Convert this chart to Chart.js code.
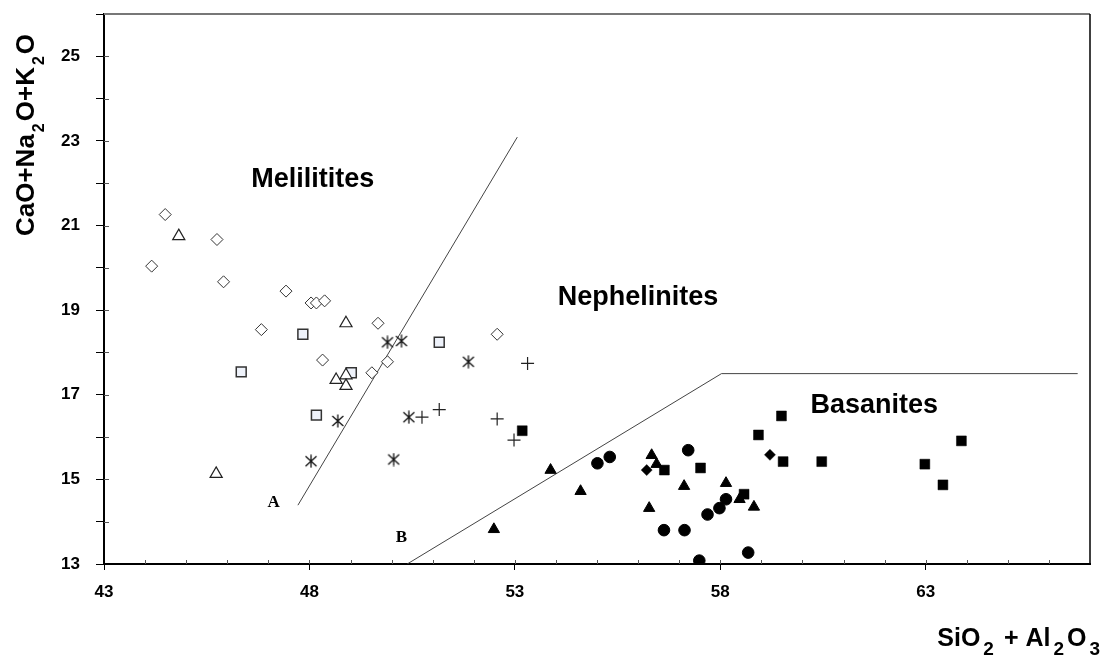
<!DOCTYPE html>
<html lang="en">
<head>
<meta charset="UTF-8">
<title>CaO+Na2O+K2O vs SiO2+Al2O3</title>
<script src="https://cdn.jsdelivr.net/npm/chart.js"></script>
<style>
  html, body { margin: 0; padding: 0; background: #fff; }
  #wrap { width: 1107px; height: 657px; }
</style>
</head>
<body>
<div id="wrap"><canvas id="chart" width="1107" height="657"></canvas></div>
<script>
// --- data (x = SiO2+Al2O3, y = CaO+Na2O+K2O) ---
const openDiamondX = [44.49, 44.16, 45.75, 45.91, 47.43, 46.83, 48.04, 48.17, 48.37, 49.67, 48.32, 49.52, 49.90, 52.57];
const openDiamondY = [21.26, 20.04, 20.67, 19.67, 19.45, 18.54, 19.17, 19.17, 19.22, 18.69, 17.82, 17.52, 17.78, 18.43];

const openTriangleX = [44.82, 48.89, 48.65, 48.89, 48.89, 45.73];
const openTriangleY = [20.75, 18.69, 17.35, 17.46, 17.21, 15.13];

const openSquareX = [47.84, 49.02, 48.17, 51.16, 46.34];
const openSquareY = [18.43, 17.52, 16.52, 18.24, 17.54];

const asteriskX = [49.90, 50.24, 51.87, 48.69, 50.42, 48.04, 50.05];
const asteriskY = [18.24, 18.27, 17.78, 16.38, 16.47, 15.43, 15.47];

const plusX = [53.31, 50.74, 51.16, 52.57, 52.98];
const plusY = [17.74, 16.47, 16.65, 16.43, 15.93];

const filledTriangleX = [52.49, 53.87, 54.60, 56.33, 56.45, 56.27, 57.12, 58.14, 58.47, 58.82];
const filledTriangleY = [13.82, 15.22, 14.72, 15.57, 15.36, 14.32, 14.84, 14.91, 14.53, 14.35];

const filledCircleX = [55.01, 55.31, 57.22, 56.63, 57.13, 57.69, 57.98, 58.14, 57.49, 58.68];
const filledCircleY = [15.38, 15.53, 15.69, 13.80, 13.80, 14.17, 14.32, 14.53, 13.08, 13.27];

const filledSquareX = [53.18, 56.64, 57.52, 58.58, 58.93, 59.49, 59.53, 60.47, 62.98, 63.87, 63.42];
const filledSquareY = [16.15, 15.22, 15.27, 14.65, 16.05, 16.50, 15.42, 15.42, 15.36, 15.91, 14.87];

const filledDiamondX = [56.21, 59.21];
const filledDiamondY = [15.22, 15.58];

// field boundaries
const lineAX = [47.72, 53.06];
const lineAY = [14.39, 23.09];
const lineBX = [50.38, 58.03, 66.70];
const lineBY = [13, 17.5, 17.5];

// axis tick labels
const xTickLabels = [43, 48, 53, 58, 63];
const yTickLabels = [13, 15, 17, 19, 21, 23, 25];

const pts = (xs, ys) => xs.map((x, i) => ({ x: x, y: ys[i] }));

// six-armed asterisk marker
function asteriskImg() {
  const c = document.createElement('canvas');
  c.width = 14; c.height = 14;
  const g = c.getContext('2d');
  g.strokeStyle = '#111';
  g.lineWidth = 1.3;
  g.beginPath();
  g.moveTo(7, 0.5); g.lineTo(7, 13.5);
  g.moveTo(1.5, 2); g.lineTo(12.5, 12);
  g.moveTo(12.5, 2); g.lineTo(1.5, 12);
  g.stroke();
  return c;
}

function richText(ctx, parts, x, y, o) {
  const widths = parts.map(([t, sub]) => {
    ctx.font = sub ? o.sub : o.main;
    return ctx.measureText(t).width + (sub ? o.gap * 2 : 0);
  });
  const total = widths.reduce((a, b) => a + b, 0);
  let cx = o.align === 'right' ? x - total : (o.align === 'center' ? x - total / 2 : x);
  ctx.textAlign = 'left';
  ctx.textBaseline = 'alphabetic';
  parts.forEach(([t, sub], i) => {
    ctx.font = sub ? o.sub : o.main;
    ctx.fillText(t, cx + (sub ? o.gap : 0), y + (sub ? o.shift : 0));
    cx += widths[i];
  });
}

const decor = {
  id: 'decor',
  afterDraw(chart) {
    const { ctx, chartArea: a } = chart;
    const sx = chart.scales.x, sy = chart.scales.y;
    ctx.save();

    // top and right frame
    ctx.lineWidth = 2;
    ctx.strokeStyle = '#777';
    ctx.beginPath(); ctx.moveTo(a.left, a.top); ctx.lineTo(a.right, a.top); ctx.stroke();
    ctx.strokeStyle = '#000';
    ctx.lineWidth = 1.5;
    ctx.beginPath(); ctx.moveTo(a.right, a.top); ctx.lineTo(a.right, a.bottom); ctx.stroke();

    // short inner ticks
    ctx.strokeStyle = '#555';
    ctx.lineWidth = 1;
    ctx.beginPath();
    for (let v = 44; v < 67; v++) {
      const px = Math.round(sx.getPixelForValue(v)) + 0.5;
      ctx.moveTo(px, a.bottom); ctx.lineTo(px, a.bottom - 4);
    }
    for (let v = 14; v < 26; v++) {
      const py = Math.round(sy.getPixelForValue(v)) + 0.5;
      ctx.moveTo(a.left, py); ctx.lineTo(a.left + 5, py);
    }
    ctx.stroke();

    // field names
    ctx.fillStyle = '#000';
    ctx.textAlign = 'center';
    ctx.textBaseline = 'alphabetic';
    ctx.font = 'bold 27px "Liberation Sans", Arial, sans-serif';
    ctx.fillText('Melilitites', sx.getPixelForValue(48.08), sy.getPixelForValue(21.91));
    ctx.fillText('Nephelinites', sx.getPixelForValue(56.0), sy.getPixelForValue(19.12));
    ctx.fillText('Basanites', sx.getPixelForValue(61.75), sy.getPixelForValue(16.57));
    ctx.font = 'bold 17px "Liberation Serif", "Times New Roman", serif';
    ctx.fillText('A', sx.getPixelForValue(47.13), sy.getPixelForValue(14.35));
    ctx.fillText('B', sx.getPixelForValue(50.24), sy.getPixelForValue(13.52));

    // axis titles with subscripts
    richText(ctx, [['SiO', 0], ['2', 1], [' + Al', 0], ['2', 1], ['O', 0], ['3', 1]], 1103, 646, {
      main: 'bold 25px "Liberation Sans", Arial, sans-serif',
      sub: 'bold 19px "Liberation Sans", Arial, sans-serif',
      shift: 9, gap: 3, align: 'right'
    });
    ctx.save();
    ctx.translate(34, 135);
    ctx.rotate(-Math.PI / 2);
    richText(ctx, [['CaO+Na', 0], ['2', 1], ['O+K', 0], ['2', 1], ['O', 0]], 0, 0, {
      main: 'bold 26px "Liberation Sans", Arial, sans-serif',
      sub: 'bold 16px "Liberation Sans", Arial, sans-serif',
      shift: 10, gap: 2, align: 'center'
    });
    ctx.restore();

    ctx.restore();
  }
};

const datasets = [
  { data: pts(lineAX, lineAY), type: 'line', showLine: true, pointRadius: 0, borderColor: '#444', borderWidth: 1, order: 10 },
  { data: pts(lineBX, lineBY), type: 'line', showLine: true, pointRadius: 0, borderColor: '#444', borderWidth: 1, order: 10 },
  { data: pts(openDiamondX, openDiamondY), pointStyle: 'rectRot', pointRadius: 6, backgroundColor: '#fff', borderColor: '#333', borderWidth: 1 },
  { data: pts(openTriangleX, openTriangleY), pointStyle: 'triangle', pointRadius: 7, backgroundColor: '#fff', borderColor: '#222', borderWidth: 1.2 },
  { data: pts(openSquareX, openSquareY), pointStyle: 'rect', pointRadius: 7, backgroundColor: '#eef2fa', borderColor: '#333', borderWidth: 1.5 },
  { data: pts(asteriskX, asteriskY), pointStyle: asteriskImg(), pointRadius: 7 },
  { data: pts(plusX, plusY), pointStyle: 'cross', pointRadius: 6.5, borderColor: '#222', borderWidth: 1.2 },
  { data: pts(filledTriangleX, filledTriangleY), pointStyle: 'triangle', pointRadius: 6.5, backgroundColor: '#000', borderColor: '#000', borderWidth: 1 },
  { data: pts(filledCircleX, filledCircleY), pointStyle: 'circle', pointRadius: 5.8, backgroundColor: '#000', borderColor: '#000', borderWidth: 1 },
  { data: pts(filledSquareX, filledSquareY), pointStyle: 'rect', pointRadius: 7, backgroundColor: '#000', borderColor: '#000', borderWidth: 0.5 },
  { data: pts(filledDiamondX, filledDiamondY), pointStyle: 'rectRot', pointRadius: 5.5, backgroundColor: '#000', borderColor: '#000', borderWidth: 0.5 }
];

new Chart(document.getElementById('chart').getContext('2d'), {
  type: 'scatter',
  data: { datasets: datasets },
  options: {
    responsive: false,
    animation: false,
    events: [],
    layout: { padding: { top: 14, right: 17, left: 0, bottom: 0 } },
    plugins: { legend: { display: false }, tooltip: { enabled: false } },
    scales: {
      x: {
        type: 'linear',
        min: 43, max: 67,
        afterFit: (s) => { s.height = 93; s.paddingLeft = 0; s.paddingRight = 0; },
        border: { color: '#000', width: 2 },
        grid: {
          drawOnChartArea: false, drawTicks: true, tickLength: 6,
          tickColor: (c) => xTickLabels.includes(c.tick.value) ? '#000' : 'rgba(0,0,0,0)'
        },
        ticks: {
          stepSize: 1, autoSkip: false, maxRotation: 0, padding: 12, color: '#000',
          font: { family: '"Liberation Sans", Arial, sans-serif', size: 17, weight: 'bold' },
          callback: (v) => xTickLabels.includes(v) ? String(v) : ''
        }
      },
      y: {
        type: 'linear',
        min: 13, max: 26,
        afterFit: (s) => { s.width = 104; s.paddingTop = 0; s.paddingBottom = 0; },
        border: { color: '#000', width: 2 },
        grid: { drawOnChartArea: false, drawTicks: true, tickLength: 8, tickColor: '#000' },
        ticks: {
          stepSize: 1, autoSkip: false, padding: 16, color: '#000',
          font: { family: '"Liberation Sans", Arial, sans-serif', size: 17, weight: 'bold' },
          callback: (v) => yTickLabels.includes(v) ? String(v) : ''
        }
      }
    }
  },
  plugins: [decor]
});
</script>
</body>
</html>
